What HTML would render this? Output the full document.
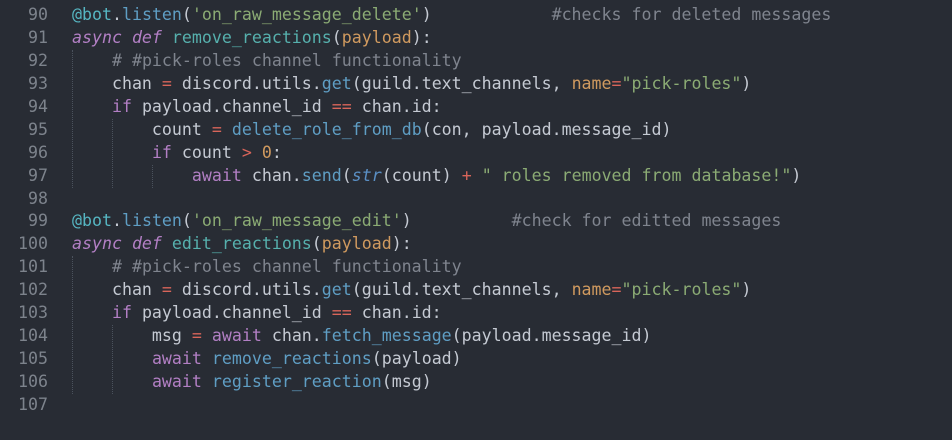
<!DOCTYPE html>
<html><head><style>
html,body{margin:0;padding:0;background:#282c34;width:952px;height:417px;overflow:hidden}
.c{position:absolute;top:4px;left:0;font-family:"DejaVu Sans Mono","Liberation Mono",monospace;font-size:16.6px;line-height:22.94px;color:#c5cad3;white-space:pre}
.n{position:absolute;left:0;width:48px;text-align:right;color:#7d838c}
.l{position:absolute;left:72px}
.d{color:#56b6c2}.f{color:#5f9ec4}.s{color:#8bab74}.k{color:#b27fc4;font-style:italic}.fn{color:#56b0ad}.p{color:#d09a5f}.cm{color:#7f848e}.o{color:#d8655a}.b{color:#5a8fc4;font-style:italic}
.g{position:absolute;width:0;border-left:1px dotted #4b525d}
</style></head><body>
<div class="c">
<div class="n" style="top:0">90</div><div class="l" style="top:0"><span class="d">@bot</span>.<span class="f">listen</span>(<span class="s">'on_raw_message_delete'</span>)            <span class="cm">#checks for deleted messages</span></div>
<div class="n" style="top:22.94px">91</div><div class="l" style="top:22.94px"><span class="k">async def</span> <span class="fn">remove_reactions</span>(<span class="p">payload</span>):</div>
<div class="n" style="top:45.88px">92</div><div class="l" style="top:45.88px">    <span class="cm"># #pick-roles channel functionality</span></div>
<div class="n" style="top:68.82px">93</div><div class="l" style="top:68.82px">    chan <span class="o">=</span> discord.utils.<span class="f">get</span>(guild.text_channels, <span class="p">name</span><span class="o">=</span><span class="s">"pick-roles"</span>)</div>
<div class="n" style="top:91.76px">94</div><div class="l" style="top:91.76px">    <span class="k" style="font-style:normal">if</span> payload.channel_id <span class="o">==</span> chan.id:</div>
<div class="n" style="top:114.7px">95</div><div class="l" style="top:114.7px">        count <span class="o">=</span> <span class="f">delete_role_from_db</span>(con, payload.message_id)</div>
<div class="n" style="top:137.64px">96</div><div class="l" style="top:137.64px">        <span class="k" style="font-style:normal">if</span> count <span class="o">&gt;</span> <span class="p">0</span>:</div>
<div class="n" style="top:160.58px">97</div><div class="l" style="top:160.58px">            <span class="k" style="font-style:normal">await</span> chan.<span class="f">send</span>(<span class="b">str</span>(count) <span class="o">+</span> <span class="s">" roles removed from database!"</span>)</div>
<div class="n" style="top:183.52px">98</div>
<div class="n" style="top:206.46px">99</div><div class="l" style="top:206.46px"><span class="d">@bot</span>.<span class="f">listen</span>(<span class="s">'on_raw_message_edit'</span>)          <span class="cm">#check for editted messages</span></div>
<div class="n" style="top:229.4px">100</div><div class="l" style="top:229.4px"><span class="k">async def</span> <span class="fn">edit_reactions</span>(<span class="p">payload</span>):</div>
<div class="n" style="top:252.34px">101</div><div class="l" style="top:252.34px">    <span class="cm"># #pick-roles channel functionality</span></div>
<div class="n" style="top:275.28px">102</div><div class="l" style="top:275.28px">    chan <span class="o">=</span> discord.utils.<span class="f">get</span>(guild.text_channels, <span class="p">name</span><span class="o">=</span><span class="s">"pick-roles"</span>)</div>
<div class="n" style="top:298.22px">103</div><div class="l" style="top:298.22px">    <span class="k" style="font-style:normal">if</span> payload.channel_id <span class="o">==</span> chan.id:</div>
<div class="n" style="top:321.16px">104</div><div class="l" style="top:321.16px">        msg <span class="o">=</span> <span class="k" style="font-style:normal">await</span> chan.<span class="f">fetch_message</span>(payload.message_id)</div>
<div class="n" style="top:344.1px">105</div><div class="l" style="top:344.1px">        <span class="k" style="font-style:normal">await</span> <span class="f">remove_reactions</span>(payload)</div>
<div class="n" style="top:367.04px">106</div><div class="l" style="top:367.04px">        <span class="k" style="font-style:normal">await</span> <span class="f">register_reaction</span>(msg)</div>
<div class="n" style="top:389.98px">107</div>
</div>
<div class="g" style="left:72px;top:50px;height:138px"></div>
<div class="g" style="left:112px;top:119px;height:69px"></div>
<div class="g" style="left:152px;top:165px;height:23px"></div>
<div class="g" style="left:72px;top:256px;height:138px"></div>
<div class="g" style="left:112px;top:325px;height:69px"></div>
</body></html>
